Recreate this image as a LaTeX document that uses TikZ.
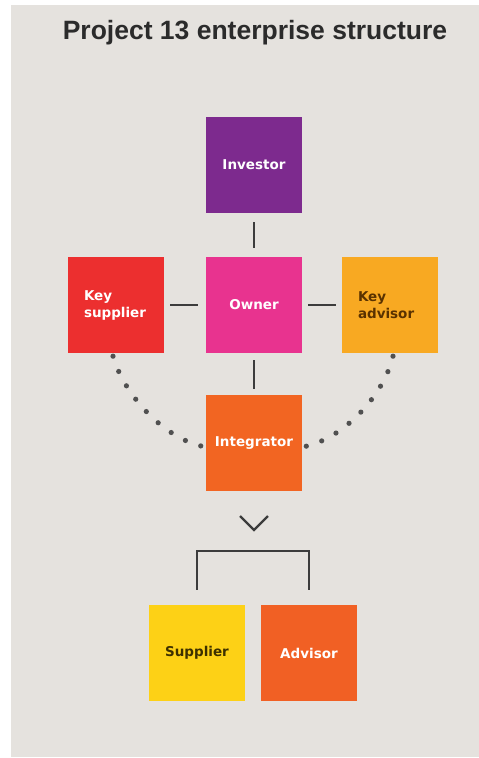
\documentclass[tikz,border=0pt]{standalone}
\usepackage{fontspec}
\setmainfont{Liberation Sans}
\newfontfamily\boxfont{DejaVu Sans}
\definecolor{bgpanel}{HTML}{E5E2DE}
\definecolor{titlecol}{HTML}{2B2B2B}
\definecolor{linecol}{HTML}{3C3C3C}
\definecolor{investorcol}{HTML}{7D2A8E}
\definecolor{keysupcol}{HTML}{EC2F2F}
\definecolor{ownercol}{HTML}{E8338F}
\definecolor{keyadvcol}{HTML}{F8A922}
\definecolor{integcol}{HTML}{F26522}
\definecolor{suppcol}{HTML}{FDD116}
\definecolor{advcol}{HTML}{F16024}
\definecolor{darkbrown}{HTML}{5A3200}
\definecolor{darkolive}{HTML}{3D3000}
\begin{document}
\begin{tikzpicture}[x=1pt,y=-1pt,
  box/.style={minimum width=96pt, minimum height=96pt, inner sep=0pt,
    font=\boxfont\bfseries\fontsize{13.5}{17}\selectfont, text=white, align=center},
  leftbox/.style={box, text width=64pt, align=left},
  conn/.style={draw=linecol, line width=2.6pt},
  dotline/.style={draw=linecol!90, line width=5.2pt, line cap=round,
    dash pattern=on 0pt off 16.3pt}
]
\useasboundingbox (0,0) rectangle (479,758);
\fill[white] (0,0) rectangle (479,758);
\fill[bgpanel] (11,5) rectangle (479,757);

\node[font=\bfseries\fontsize{26.5}{30}\selectfont, text=titlecol] (title) at (255,33) {Project 13 enterprise structure};

\node[box, fill=investorcol] (inv) at (254,165) {Investor};
\node[leftbox, fill=keysupcol] (ks) at (116,305) {Key\\supplier};
\node[box, fill=ownercol] (own) at (254,305) {Owner};
\node[leftbox, fill=keyadvcol, text=darkbrown] (ka) at (390,305) {Key\\advisor};
\node[box, fill=integcol] (integ) at (254,443) {Integrator};
\node[box, fill=suppcol, text=darkolive] (sup) at (197,653) {Supplier};
\node[box, fill=advcol] (adv) at (309,653) {Advisor};

\draw[conn, shorten <=9pt, shorten >=9pt] (inv.south) -- (own.north);
\draw[conn, shorten <=6pt, shorten >=8pt] (ks.east) -- (own.west);
\draw[conn, shorten <=6pt, shorten >=6pt] (own.east) -- (ka.west);
\draw[conn, shorten <=7pt, shorten >=6pt] (own.south) -- (integ.north);

\draw[dotline] ([xshift=-3pt,yshift=-3pt]ks.south) .. controls (124,395) and (165,440) .. ([yshift=-4pt]integ.west);
\draw[dotline] ([xshift=3pt,yshift=-3pt]ka.south) .. controls (384,395) and (343,440) .. ([yshift=-4pt]integ.east);

\coordinate (chevL) at (240,516);
\coordinate (chevM) at (254,530);
\coordinate (chevR) at (268,516);
\draw[conn, line width=2.2pt] (chevL) -- (chevM) -- (chevR);

\draw[conn] ([yshift=15pt]sup.north) -- ++(0,-39) -| ([yshift=15pt]adv.north);
\end{tikzpicture}
\end{document}
